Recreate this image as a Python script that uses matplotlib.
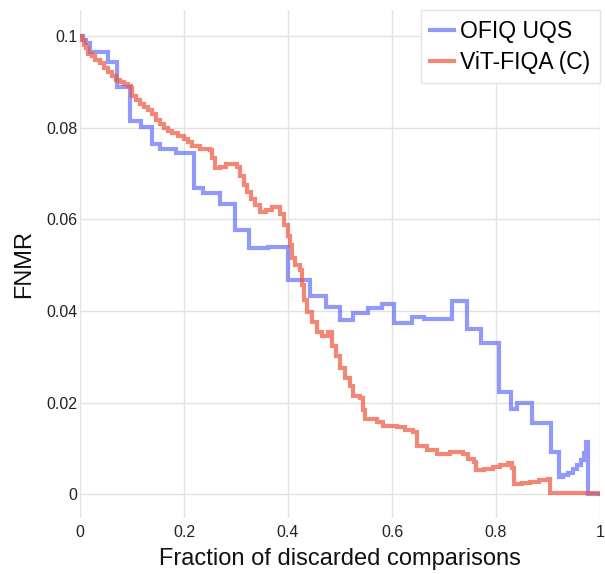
import numpy as np
import matplotlib.pyplot as plt

plt.rcParams['font.family'] = ['Liberation Sans', 'DejaVu Sans']

# OFIQ UQS (step curve, value held until next x)
ofiq_x = [0.000, 0.006, 0.012, 0.019, 0.054, 0.071, 0.096, 0.117, 0.138, 0.154,
          0.185, 0.219, 0.237, 0.269, 0.298, 0.325, 0.362, 0.400, 0.442, 0.473,
          0.500, 0.525, 0.554, 0.581, 0.604, 0.638, 0.662, 0.715, 0.744, 0.771,
          0.806, 0.829, 0.840, 0.869, 0.906, 0.921, 0.929, 0.938, 0.948, 0.956,
          0.963, 0.969, 0.973, 0.977, 1.000]
ofiq_y = [0.1000, 0.0991, 0.0985, 0.0965, 0.0943, 0.0889, 0.0814, 0.0801, 0.0764, 0.0753,
          0.0745, 0.0668, 0.0657, 0.0633, 0.0576, 0.0537, 0.0539, 0.0467, 0.0432, 0.0408,
          0.0380, 0.0395, 0.0406, 0.0415, 0.0373, 0.0386, 0.0382, 0.0421, 0.0360, 0.0330,
          0.0223, 0.0186, 0.0199, 0.0155, 0.0092, 0.0037, 0.0041, 0.0046, 0.0055, 0.0063,
          0.0074, 0.0090, 0.0114, 0.0000, 0.0000]

# ViT-FIQA (C)
vit_x = [0.000, 0.004, 0.008, 0.012, 0.015, 0.023, 0.029, 0.038, 0.046, 0.054,
         0.062, 0.069, 0.077, 0.085, 0.092, 0.098, 0.100, 0.108, 0.115, 0.123,
         0.131, 0.138, 0.146, 0.154, 0.162, 0.169, 0.177, 0.188, 0.200, 0.208,
         0.215, 0.231, 0.250, 0.254, 0.260, 0.269, 0.281, 0.292, 0.302, 0.308,
         0.315, 0.321, 0.329, 0.337, 0.346, 0.358, 0.369, 0.379, 0.385, 0.392,
         0.400, 0.404, 0.408, 0.413, 0.423, 0.427, 0.431, 0.437, 0.446, 0.456,
         0.465, 0.477, 0.485, 0.492, 0.500, 0.510, 0.519, 0.525, 0.538, 0.544,
         0.548, 0.571, 0.583, 0.610, 0.625, 0.640, 0.648, 0.667, 0.687, 0.712,
         0.737, 0.746, 0.758, 0.762, 0.777, 0.794, 0.808, 0.823, 0.831, 0.835,
         0.850, 0.865, 0.883, 0.900, 0.904, 1.000]
vit_y = [0.1000, 0.0991, 0.0980, 0.0974, 0.0961, 0.0956, 0.0948, 0.0941, 0.0930, 0.0921,
         0.0913, 0.0904, 0.0900, 0.0895, 0.0891, 0.0886, 0.0869, 0.0860, 0.0852, 0.0845,
         0.0838, 0.0830, 0.0817, 0.0808, 0.0799, 0.0793, 0.0788, 0.0782, 0.0775, 0.0769,
         0.0760, 0.0753, 0.0751, 0.0734, 0.0712, 0.0714, 0.0721, 0.0721, 0.0714, 0.0694,
         0.0675, 0.0659, 0.0644, 0.0631, 0.0616, 0.0620, 0.0627, 0.0627, 0.0611, 0.0587,
         0.0563, 0.0544, 0.0515, 0.0500, 0.0489, 0.0456, 0.0424, 0.0397, 0.0376, 0.0354,
         0.0345, 0.0354, 0.0323, 0.0301, 0.0275, 0.0253, 0.0236, 0.0214, 0.0210, 0.0183,
         0.0164, 0.0157, 0.0148, 0.0146, 0.0140, 0.0135, 0.0105, 0.0096, 0.0087, 0.0092,
         0.0087, 0.0076, 0.0070, 0.0052, 0.0054, 0.0059, 0.0063, 0.0068, 0.0057, 0.0022,
         0.0024, 0.0026, 0.0030, 0.0033, 0.0002, 0.0000]

xticks = [0, 0.2, 0.4, 0.6, 0.8, 1]
xtick_labels = ['0', '0.2', '0.4', '0.6', '0.8', '1']
yticks = [0, 0.02, 0.04, 0.06, 0.08, 0.1]
ytick_labels = ['0', '0.02', '0.04', '0.06', '0.08', '0.1']

fig = plt.figure(figsize=(6.05, 5.74), dpi=100)
ax = fig.add_axes([80/605, 1 - 518/574, 520/605, 508/574])

ax.plot(ofiq_x, ofiq_y, drawstyle='steps-post', color='#636efa', alpha=0.7,
        lw=3, label='OFIQ UQS', solid_joinstyle='miter')
ax.plot(vit_x, vit_y, drawstyle='steps-post', color='#ef553b', alpha=0.7,
        lw=3, label='ViT-FIQA (C)', solid_joinstyle='miter')

ax.set_xlim(0, 1)
ax.set_ylim(-0.0052, 0.1057)
ax.set_xticks(xticks)
ax.set_xticklabels(xtick_labels)
ax.set_yticks(yticks)
ax.set_yticklabels(ytick_labels)
ax.tick_params(length=0, labelsize=11.5, colors='#222222', pad=2)
ax.tick_params(axis='x', pad=5)
ax.grid(True, color='#e2e2e2', lw=1)
ax.set_axisbelow(True)
for s in ax.spines.values():
    s.set_visible(False)

ax.set_xlabel('Fraction of discarded comparisons', fontsize=17, color='#111111', labelpad=6)
ax.set_ylabel('FNMR', fontsize=17, color='#111111', labelpad=8)

leg = ax.legend(loc='upper right', bbox_to_anchor=(1.0, 1.0), fontsize=16.5,
                fancybox=False, framealpha=1, edgecolor='#e2e2e2',
                handlelength=1.05, handletextpad=0.26, labelspacing=0.35,
                borderpad=0.42, borderaxespad=0)
leg.get_frame().set_linewidth(1)

fig.savefig('out.png', dpi=100)
